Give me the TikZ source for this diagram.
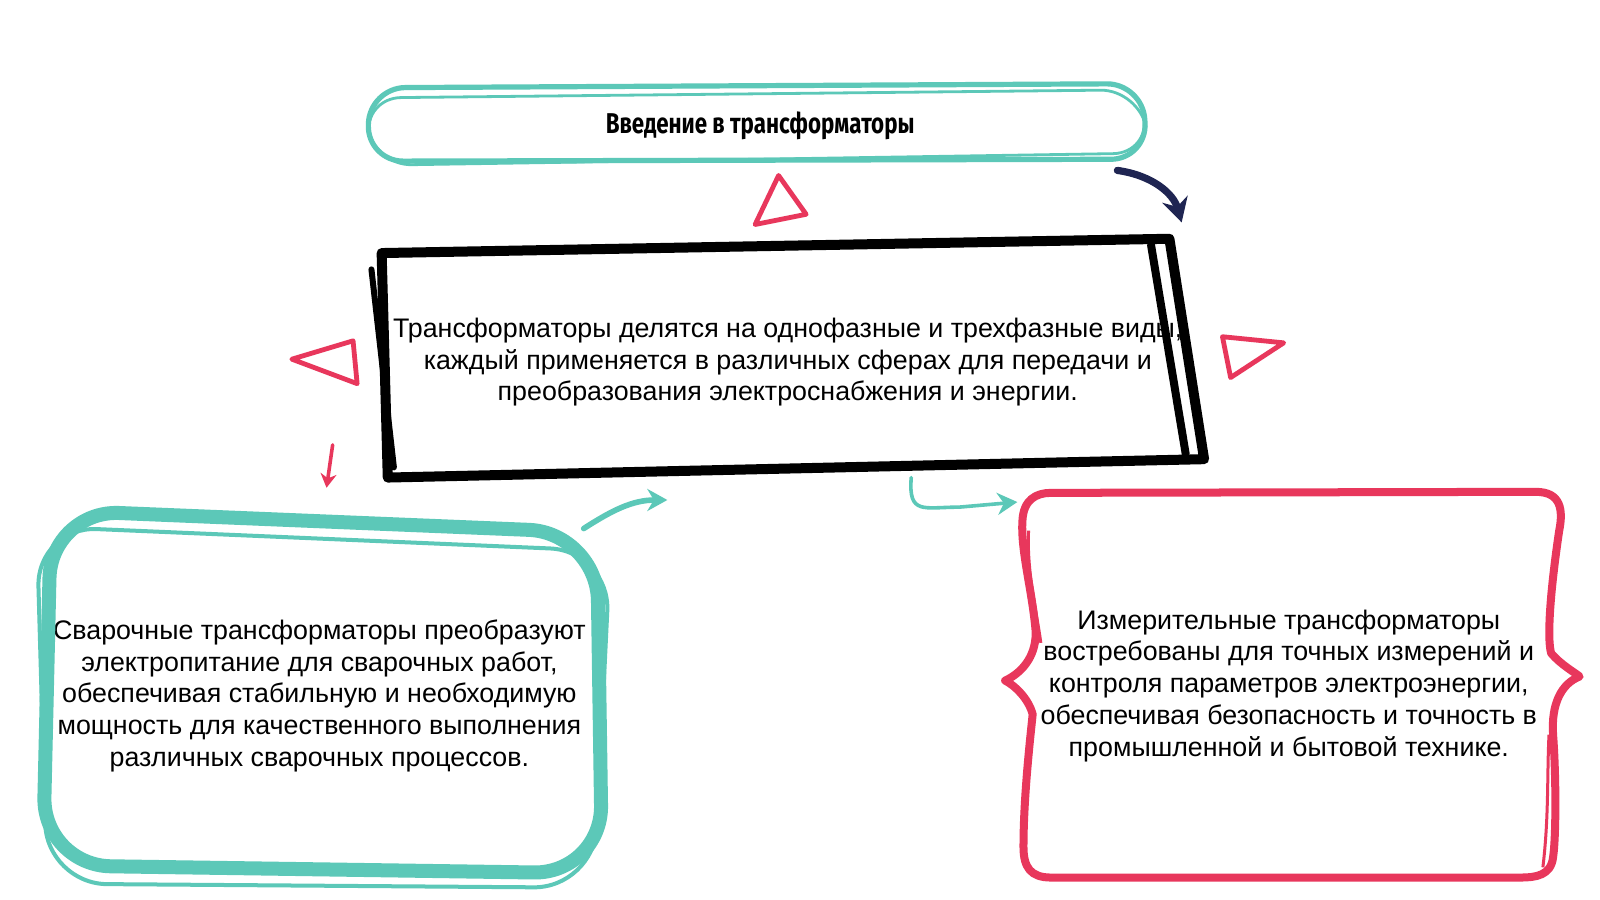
\documentclass[tikz,border=0pt]{standalone}
\usepackage{fontspec}
\setmainfont{Liberation Sans}
\newfontfamily\titlefont[FakeStretch=0.78]{Fira Sans}
\usetikzlibrary{arrows.meta}
\definecolor{tealc}{HTML}{5CC8B8}
\definecolor{redc}{HTML}{E8375C}
\definecolor{navyc}{HTML}{1F2552}
\tikzset{
 body/.style={align=center,font=\fontsize{13.4}{15.9}\selectfont,inner sep=0pt},
 tri/.style={redc,line width=2.4pt,line join=round},
 arrow/.style={line width=2.8pt,line cap=round,-{Stealth[length=10pt,width=11pt]}}
}
\begin{document}
\begin{tikzpicture}[x=0.51pt,y=-0.51pt]
\useasboundingbox[fill=white] (0,0) rectangle (1568,882);

% texts
\node[font=\titlefont\bfseries\fontsize{14.3}{17}\selectfont] (title) at (745,123) {Введение в трансформаторы};
\node[body] (core) at (772,355) {Трансформаторы делятся на однофазные и трехфазные виды,\\каждый применяется в различных сферах для передачи и\\преобразования электроснабжения и энергии.};
\node[body] (weld) at (313,682) {Сварочные трансформаторы преобразуют\\электропитание для сварочных работ,\\обеспечивая стабильную и необходимую\\мощность для качественного выполнения\\различных сварочных процессов.};
\node[body] (meas) at (1263,672) {Измерительные трансформаторы\\востребованы для точных измерений и\\контроля параметров электроэнергии,\\обеспечивая безопасность и точность в\\промышленной и бытовой технике.};

% title pill
\draw[tealc,line width=2.6pt,rounded corners=18pt] (362,86) -- (1120,82) -- (1124,156) -- (360,158) -- cycle;
\draw[tealc,line width=1.4pt,rounded corners=19pt] (356,96) -- (1116,88) -- (1128,150) -- (366,162) -- cycle;

% core box
\draw[black,line width=5pt,line join=round] (374,248) -- (1146,234) -- (1180,450) -- (380,468) -- cycle;
\draw[black,line width=4pt,line cap=round] (1128,240) -- (1162,445);
\draw[black,line width=3pt,line cap=round] (364,264) -- (386,458);

% welding box
\draw[tealc,line width=7pt,rounded corners=34pt] (50,500) -- (585,522) -- (590,856) -- (42,848) -- cycle;
\draw[tealc,line width=2pt,rounded corners=30pt] (36,516) -- (598,540) -- (582,870) -- (46,866) -- cycle;

% measuring box
\draw[redc,line width=4pt,line join=round] (1030,483) -- (1505,482)
 .. controls (1530,482) and (1532,500) .. (1528,520)
 .. controls (1522,560) and (1515,620) .. (1520,640)
 .. controls (1530,652) and (1545,660) .. (1548,663)
 .. controls (1530,670) and (1520,690) .. (1522,720)
 .. controls (1525,760) and (1525,820) .. (1522,840)
 .. controls (1520,858) and (1505,860) .. (1490,860) -- (1030,860)
 .. controls (1010,860) and (1003,850) .. (1003,830)
 .. controls (1003,780) and (1010,720) .. (1012,700)
 .. controls (1008,685) and (995,672) .. (985,667)
 .. controls (1000,660) and (1015,645) .. (1015,620)
 .. controls (1012,580) and (1000,540) .. (1002,510)
 .. controls (1003,490) and (1015,483) .. (1030,483) -- cycle;
\draw[redc,line width=1.5pt] (1008,520) .. controls (1006,560) and (1016,600) .. (1020,630);
\draw[redc,line width=1.5pt] (1512,850) .. controls (1518,800) and (1516,760) .. (1518,720);

% triangles
\draw[tri] (763,172) -- (740,220) -- (790,210) -- cycle;
\draw[tri] (286,352) -- (346,334) -- (350,376) -- cycle;
\draw[tri] (1198,330) -- (1258,336) -- (1206,370) -- cycle;

% arrows
\coordinate (n1) at (1095,167);
\coordinate (n2) at (1158,218);
\draw[navyc,line width=3.6pt,line cap=round,-{Stealth[length=12pt,width=13pt]}] (n1) .. controls (1130,172) and (1150,190) .. (n2);
\coordinate (r1) at (326,436);
\coordinate (r2) at (320,478);
\draw[redc,line width=1.8pt,line cap=round,-{Stealth[length=7pt,width=8pt]}] (r1) -- (r2);
\coordinate (w1) at (572,518);
\coordinate (w2) at (654,490);
\draw[arrow,tealc] (w1) .. controls (600,500) and (620,490) .. (w2);
\coordinate (h1) at (893,468);
\coordinate (h2) at (997,492);
\draw[tealc,line width=1.8pt,line cap=round,-{Stealth[length=10pt,width=11pt]}] (h1) .. controls (890,505) and (905,497) .. (940,497) -- (h2);
\end{tikzpicture}
\end{document}
